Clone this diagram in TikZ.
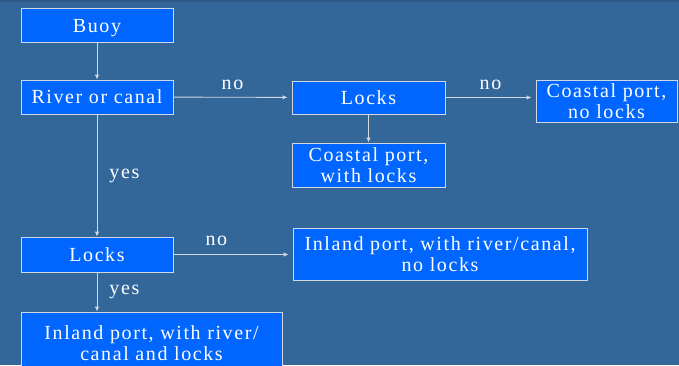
\documentclass[tikz,border=0pt]{standalone}
\usepackage{fontspec}
\newfontfamily\boxfont[LetterSpace=8]{Liberation Serif}
\usetikzlibrary{arrows.meta}
\definecolor{slate}{HTML}{336699}
\definecolor{boxblue}{HTML}{0066FF}
\definecolor{edge}{HTML}{D0D8E4}
\tikzset{
  x=1pt, y=-1pt,
  box/.style={draw=edge, line width=0.9pt, fill=boxblue, text=white,
    inner sep=0pt, align=center, font=\boxfont\fontsize{20}{21}\selectfont},
  flow/.style={draw=edge, line width=0.9pt, -{Latex[length=5pt,width=4.5pt]}},
  lbl/.style={text=white, font=\boxfont\fontsize{20}{21}\selectfont, inner sep=0pt}
}
\begin{document}
\begin{tikzpicture}
\useasboundingbox (0,0) rectangle (679,365);
\fill[slate] (0,0) rectangle (679,365);
\fill[slate!88!black] (0,0) rectangle (679,2);
\clip (0,0) rectangle (679,365);

% decision and outcome boxes
\node[box, minimum width=152pt, minimum height=34pt] (buoy)   at (97,25.5)  {\smash{Buoy}\vphantom{L}};
\node[box, minimum width=152pt, minimum height=34pt] (river)  at (97,97)    {River or canal};
\node[box, minimum width=153pt, minimum height=33pt] (locksA) at (368.5,97.5) {Locks};
\node[box, minimum width=153pt, minimum height=44pt] (coastW) at (368.5,165) {Coastal port,\\with locks};
\node[box, minimum width=141pt, minimum height=42pt] (coastN) at (606.5,101)  {Coastal port,\\no locks};
\node[box, minimum width=152pt, minimum height=35pt] (locksB) at (97,254.5) {Locks};
\node[box, minimum width=294pt, minimum height=52pt] (inlandN) at (440,254) {Inland port, with river/canal,\\no locks};
\node[box, minimum width=261pt, minimum height=62pt] (inlandW) at (151.5,343) {Inland port, with river/\\canal and locks};

% connectors
\draw[flow] (buoy) -- (river);
\draw[flow, shorten >=4pt] (river) -- (locksA) node[lbl, midway, yshift=12.5pt] {no};
\draw[flow, shorten >=4pt] (locksA) -- (locksA -| coastN.west) node[lbl, midway, yshift=13pt] {no};
\draw[flow] (locksA) -- (coastW);
\draw[flow] (river) -- (locksB) node[lbl, pos=0.5, right=12pt] {yes};
\draw[flow, shorten >=4pt] (locksB) -- (locksB -| inlandN.west) node[lbl, pos=0.36, yshift=13.5pt] {no};
\draw[flow] (locksB) -- (locksB |- inlandW.north) node[lbl, midway, right=12pt] {yes};
\end{tikzpicture}
\end{document}
